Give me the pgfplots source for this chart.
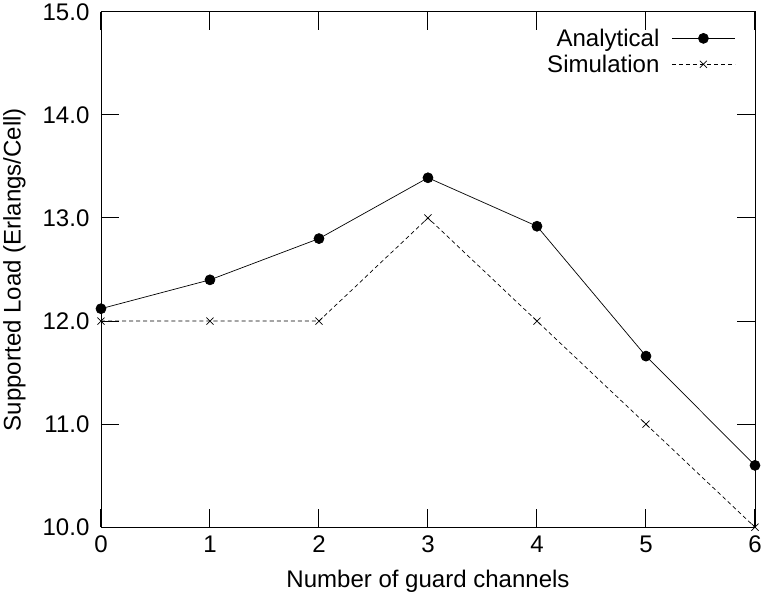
\documentclass[border=0pt]{standalone}
\usepackage{fontspec}
\setmainfont{Liberation Sans}
\usepackage{pgfplots}
\pgfplotsset{compat=1.18}

\begin{document}
\begin{tikzpicture}
\begin{axis}[
    scale only axis,
    width=651bp, height=513bp,
    xmin=0, xmax=6, ymin=10, ymax=15,
    xtick={0,1,2,3,4,5,6},
    ytick={10,11,12,13,14,15},
    yticklabel style={/pgf/number format/fixed, /pgf/number format/fixed zerofill,
        /pgf/number format/precision=1, xshift=-8bp},
    /pgf/number format/assume math mode=true,
    xtick pos=both, ytick pos=both,
    tick align=inside, tickwidth=18bp,
    xtick style={draw=black, line width=1pt},
    ytick style={draw=black, line width=1pt},
    axis line style={line width=0.9pt},
    tick label style={font=\fontsize{24}{26}\selectfont},
    label style={font=\fontsize{24}{26}\selectfont},
    xticklabel style={yshift=-5bp},
    xlabel style={yshift=-10bp},
    ylabel style={yshift=10bp},
    xlabel={Number of guard channels},
    ylabel={Supported Load (Erlangs/Cell)},
    legend style={at={(0.975,0.975)}, anchor=north east, draw=none, fill=none,
        font=\fontsize{24}{24}\selectfont, cells={anchor=east}, row sep=3bp,
        column sep=10bp},
    legend plot pos=right,
    legend image code/.code={
        \draw[#1] (0bp,0bp) -- (63bp,0bp);
        \draw[#1, only marks] plot coordinates {(31.5bp,0bp)};
    },
]
\addplot[black, line width=0.7pt, mark=*, mark size=5pt] coordinates {
    (0,12.12) (1,12.40) (2,12.80) (3,13.39) (4,12.92) (5,11.66) (6,10.60)
};
\addlegendentry{Analytical}
\addplot[black, line width=0.7pt, dash pattern=on 4bp off 3bp, mark=x, mark size=5pt, mark options={solid}] coordinates {
    (0,12) (1,12) (2,12) (3,13) (4,12) (5,11) (6,10)
};
\addlegendentry{Simulation}
\end{axis}
\end{tikzpicture}
\end{document}
